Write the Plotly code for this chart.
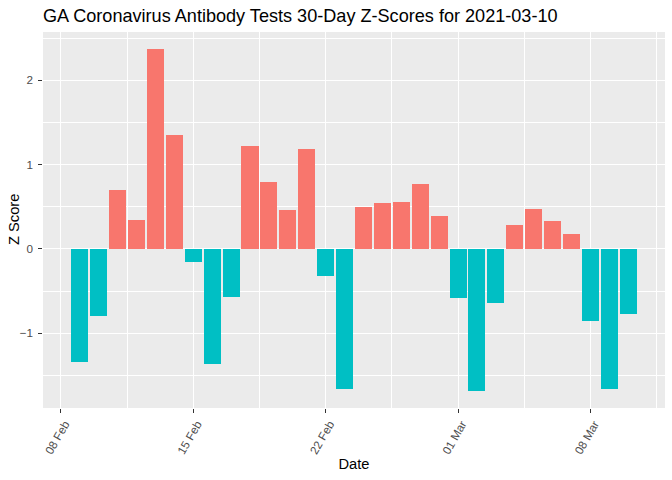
import plotly.graph_objects as go
import pandas as pd

dates = pd.date_range("2021-02-09", "2021-03-10", freq="D")
z_scores = [-1.34, -0.79, 0.70, 0.344, 2.37, 1.35, -0.15, -1.36, -0.57,
            1.22, 0.795, 0.463, 1.186, -0.316, -1.66, 0.498, 0.546, 0.558,
            0.771, 0.391, -0.577, -1.684, -0.636, 0.285, 0.474, 0.332, 0.178,
            -0.85, -1.657, -0.767]
pos_color = "#F8766D"
neg_color = "#00BFC4"
colors = [pos_color if v > 0 else neg_color for v in z_scores]

DAY = 86400000
bar_w = 0.9
# ggplot-like expansion
span_days = (dates[-1] - dates[0]).days + bar_w
pad = 0.05 * span_days
x0 = dates[0] - pd.Timedelta(days=bar_w / 2 + pad)
x1 = dates[-1] + pd.Timedelta(days=bar_w / 2 + pad)
ymin, ymax = min(z_scores), max(z_scores)
ypad = 0.05 * (ymax - ymin)

fig = go.Figure(go.Bar(x=dates, y=z_scores, marker_color=colors,
                       marker_line_width=0, width=bar_w * DAY))

W, H = 672, 480
ML, MR, MT, MB = 43, 7, 32, 72
font_fam = "Liberation Sans, Arial, sans-serif"
fig.update_layout(
    width=W, height=H,
    margin=dict(l=ML, r=MR, t=MT, b=MB, autoexpand=False),
    paper_bgcolor="white", plot_bgcolor="#EBEBEB",
    showlegend=False, bargap=0,
    font=dict(family=font_fam, color="black"),
    title=dict(text="GA Coronavirus Antibody Tests 30-Day Z-Scores for 2021-03-10",
               x=ML / W, xanchor="left", xref="container",
               y=1 - 16 / H, yanchor="middle", yref="container",
               font=dict(size=18.1, color="black", family=font_fam)),
    annotations=[dict(text="Z Score", textangle=-90, showarrow=False,
                      xref="paper", yref="paper",
                      x=(14 - ML) / (W - ML - MR), y=0.5,
                      xanchor="center", yanchor="middle",
                      font=dict(size=14.7, color="black"))],
)
fig.update_xaxes(
    range=[x0, x1], type="date",
    tick0="2021-02-08", dtick=7 * DAY, tickformat="%d %b", tickangle=-60,
    tickfont=dict(size=11.7, color="#4D4D4D"),
    ticklabelshift=4,
    ticks="outside", ticklen=3.7, tickwidth=1.07, tickcolor="#333333",
    showgrid=True, gridcolor="white", gridwidth=1.07,
    minor=dict(tick0="2021-02-04 12:00", dtick=7 * DAY, showgrid=True,
               gridcolor="white", gridwidth=0.53, ticks=""),
    zeroline=False, showline=False, automargin=False,
    title=dict(text="Date", font=dict(size=14.7, color="black"), standoff=3),
)
fig.update_yaxes(
    range=[ymin - ypad, ymax + ypad],
    tick0=0, dtick=1,
    tickfont=dict(size=11.7, color="#4D4D4D"),
    ticklabelstandoff=3,
    ticks="outside", ticklen=3.7, tickwidth=1.07, tickcolor="#333333",
    showgrid=True, gridcolor="white", gridwidth=1.07,
    minor=dict(tick0=0.5, dtick=1, showgrid=True, gridcolor="white",
               gridwidth=0.53, ticks=""),
    zeroline=False, showline=False, automargin=False,
)

fig.write_html("out.html", config={"displayModeBar": False},
               post_script="document.body.style.margin='0';document.body.style.overflow='hidden';")
